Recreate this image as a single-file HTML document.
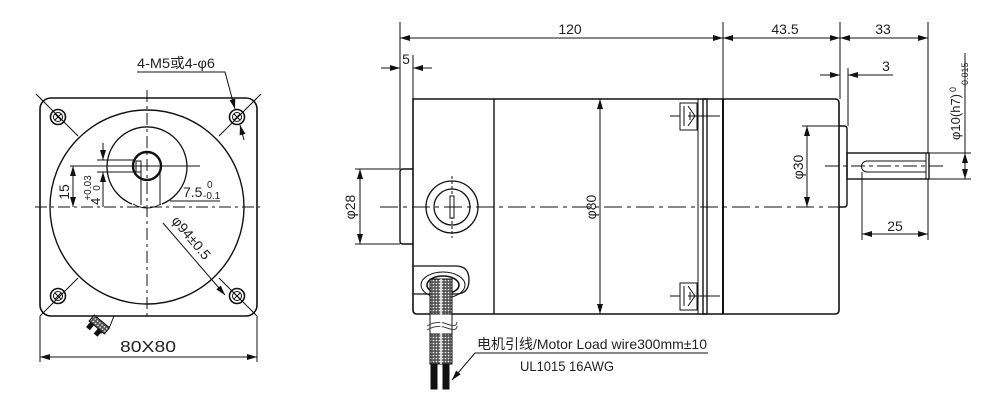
<!DOCTYPE html>
<html><head><meta charset="utf-8"><style>
html,body{margin:0;padding:0;background:#fff;}
svg{display:block;}
text{font-family:"Liberation Sans","Noto Sans CJK SC",sans-serif;fill:#222;}
</style></head><body>
<svg width="1000" height="408" viewBox="0 0 1000 408" xmlns="http://www.w3.org/2000/svg">
<defs>
<marker id="a" viewBox="0 0 10 6" refX="10" refY="3" markerWidth="10" markerHeight="6" orient="auto-start-reverse" markerUnits="userSpaceOnUse"><path d="M0,0L10,3L0,6z" fill="#111"/></marker>
<pattern id="mesh" width="3" height="3" patternUnits="userSpaceOnUse"><rect width="3" height="3" fill="#555"/><circle cx="1.5" cy="1.5" r="0.8" fill="#fff"/></pattern>
</defs>
<g fill="none" stroke="#111" stroke-width="1">
<!-- ===== FRONT VIEW ===== -->
<rect x="40" y="98" width="217" height="218" rx="11" stroke-width="1.6"/>
<circle cx="147" cy="207" r="97" stroke-width="1.4"/>
<line x1="40" y1="98" x2="78" y2="136"/><line x1="257" y1="98" x2="219" y2="136"/>
<line x1="40" y1="316" x2="78" y2="278"/><line x1="257" y1="316" x2="219" y2="278"/>
<line x1="36" y1="94" x2="42" y2="100"/><line x1="261" y1="94" x2="255" y2="100"/>
<g stroke-width="1.6">
<circle cx="58" cy="117" r="7.5"/><circle cx="237" cy="117" r="7.5"/>
<circle cx="58" cy="296" r="7.5"/><circle cx="237" cy="296" r="7.5"/>
</g>
<circle cx="58" cy="117" r="4.5"/><circle cx="237" cy="117" r="4.5"/>
<circle cx="58" cy="296" r="4.5"/><circle cx="237" cy="296" r="4.5"/>
<path d="M55,114l6,6M61,114l-6,6M234,114l6,6M240,114l-6,6M55,293l6,6M61,293l-6,6M234,293l6,6M240,293l-6,6"/>
<path d="M132,204 A40,40 0 1 1 162,204" stroke-width="1.3"/>
<circle cx="147" cy="166" r="14" stroke-width="2.4"/>
<rect x="136" y="161" width="5" height="11"/>
<path d="M133,204 Q147,212 161,204"/>
<line x1="141" y1="172" x2="141" y2="205"/><line x1="160" y1="172" x2="160" y2="205"/>
<line x1="35" y1="207" x2="260" y2="207" stroke-dasharray="12,4,3,4"/>
<line x1="147" y1="90" x2="147" y2="320" stroke-dasharray="12,4,3,4"/>
<line x1="70" y1="166" x2="200" y2="166"/>
<line x1="73" y1="166" x2="73" y2="207" marker-start="url(#a)" marker-end="url(#a)"/>
<line x1="97" y1="160" x2="134" y2="160"/><line x1="97" y1="172" x2="134" y2="172"/>
<line x1="103" y1="143" x2="103" y2="160" marker-end="url(#a)"/>
<line x1="103" y1="172" x2="103" y2="207" marker-start="url(#a)"/>
<line x1="170" y1="201" x2="220" y2="201"/>
<polyline points="137,72 225,72 235,109" marker-end="url(#a)"/>
<line x1="244" y1="140" x2="240" y2="125" marker-end="url(#a)"/>
<line x1="163" y1="223" x2="225" y2="295" marker-end="url(#a)"/>
<path d="M97,316 L92,322 M114,316 L110,326 Q103,335 95,333"/>
<g transform="rotate(40 98 326)"><rect x="88" y="320" width="20" height="8" fill="url(#mesh)"/><rect x="90" y="328" width="4" height="6" fill="#111"/><rect x="100" y="328" width="4" height="6" fill="#111"/></g>
<line x1="40" y1="316" x2="40" y2="362"/><line x1="257" y1="316" x2="257" y2="362"/>
<line x1="40" y1="357" x2="257" y2="357" marker-start="url(#a)" marker-end="url(#a)"/>

<!-- ===== SIDE VIEW ===== -->
<path d="M413,99 H835 Q839,99 839,103 V310 Q839,314 835,314 H417 Q413,314 413,310 Z" stroke-width="1.6"/>
<line x1="494" y1="99" x2="494" y2="314" stroke-width="1.4"/>
<line x1="723" y1="99" x2="723" y2="314" stroke-width="2"/>
<rect x="698" y="99" width="5" height="215"/><rect x="703" y="99" width="4" height="215" stroke-width="1.4"/>
<rect x="680" y="103" width="17" height="27"/><path d="M688,106l7,10l-7,10M684,106v20M688,116h20M690,112v8M680,116h-10M708,116h12" />
<rect x="680" y="283" width="17" height="27"/><path d="M688,286l7,10l-7,10M684,286v20M688,296h20M690,292v8M680,296h-10M708,296h12"/>
<path d="M413,169 H403 Q400,169 400,172 V241 Q400,244 403,244 H413" stroke-width="1.4"/>
<circle cx="452" cy="207" r="26" stroke-width="1.3"/><circle cx="452" cy="207" r="18" stroke-width="1.3"/>
<line x1="452" y1="176" x2="452" y2="238" stroke-dasharray="3,2"/>
<rect x="450" y="196" width="4" height="22" fill="#fff"/>
<path d="M413,266 H456 Q469,266 469,280 Q469,294 456,294 H413" stroke-width="1.3"/>
<ellipse cx="443" cy="285" rx="22" ry="13"/><ellipse cx="443" cy="285" rx="16" ry="9" stroke-width="1.6"/>
<rect x="430" y="279" width="22" height="35" fill="url(#mesh)" stroke="#111"/>
<rect x="430" y="314" width="22" height="20" fill="#fff"/>
<path d="M427,326 Q437,320 447,324 T457,322 M427,330 Q437,324 447,328 T457,326" stroke="#444"/>
<rect x="430" y="334" width="22" height="30" fill="url(#mesh)" stroke="#111"/>
<rect x="431" y="364" width="6" height="25" fill="#111"/><rect x="443" y="364" width="6" height="25" fill="#111"/>
<line x1="441" y1="279" x2="441" y2="364" stroke="#fff" stroke-width="1.5"/>
<polyline points="708,353 475,353 452,380" marker-end="url(#a)"/>
<path d="M839,126 H844 Q847,126 847,129 V204 Q847,207 844,207 H839" stroke-width="1.4"/>
<rect x="847" y="153" width="82" height="26" stroke-width="1.4"/>
<path d="M926,161 H867 A5.5,5.5 0 0 0 867,172 H926 M926,153 V179"/>
<line x1="380" y1="207" x2="850" y2="207" stroke-dasharray="18,5,4,5"/>
<line x1="825" y1="166" x2="945" y2="166" stroke-dasharray="14,4,4,4"/>
<line x1="400" y1="22" x2="400" y2="169"/><line x1="413" y1="55" x2="413" y2="99"/>
<line x1="723" y1="22" x2="723" y2="99"/><line x1="840" y1="22" x2="840" y2="99"/>
<line x1="928" y1="22" x2="928" y2="153"/><line x1="848" y1="68" x2="848" y2="126"/>
<line x1="400" y1="38" x2="723" y2="38" marker-start="url(#a)" marker-end="url(#a)"/>
<line x1="723" y1="38" x2="840" y2="38" marker-start="url(#a)" marker-end="url(#a)"/>
<line x1="840" y1="38" x2="928" y2="38" marker-start="url(#a)" marker-end="url(#a)"/>
<line x1="381" y1="68" x2="400" y2="68" marker-end="url(#a)"/><line x1="432" y1="68" x2="413" y2="68" marker-end="url(#a)"/>
<line x1="820" y1="75" x2="840" y2="75" marker-end="url(#a)"/><line x1="893" y1="75" x2="848" y2="75" marker-end="url(#a)"/>
<line x1="355" y1="169" x2="400" y2="169"/><line x1="355" y1="244" x2="400" y2="244"/>
<line x1="360" y1="169" x2="360" y2="244" marker-start="url(#a)" marker-end="url(#a)"/>
<line x1="600" y1="99" x2="600" y2="314" marker-start="url(#a)" marker-end="url(#a)"/>
<line x1="802" y1="126" x2="839" y2="126"/>
<line x1="807" y1="126" x2="807" y2="207" marker-start="url(#a)" marker-end="url(#a)"/>
<line x1="929" y1="153" x2="971" y2="153"/><line x1="929" y1="179" x2="971" y2="179"/>
<line x1="965" y1="53" x2="965" y2="153"/>
<line x1="965" y1="153" x2="965" y2="179" marker-start="url(#a)" marker-end="url(#a)"/>
<line x1="862" y1="172" x2="862" y2="240"/>
<line x1="862" y1="234" x2="928" y2="234" marker-start="url(#a)" marker-end="url(#a)"/>
<line x1="928" y1="179" x2="928" y2="240"/>
</g>
<g font-size="14">
<text x="137" y="68" textLength="78" lengthAdjust="spacingAndGlyphs">4-M5或4-φ6</text>
<text x="148" y="352" text-anchor="middle" font-size="16" textLength="56" lengthAdjust="spacingAndGlyphs">80X80</text>
<text x="570" y="34" text-anchor="middle">120</text>
<text x="785" y="34" text-anchor="middle">43.5</text>
<text x="883" y="34" text-anchor="middle">33</text>
<text x="406" y="64" text-anchor="middle">5</text>
<text x="886" y="71" text-anchor="middle">3</text>
<text x="895" y="231" text-anchor="middle">25</text>
<text x="477" y="349" textLength="230" lengthAdjust="spacingAndGlyphs">电机引线/Motor Load wire300mm±10</text>
<text x="520" y="371" textLength="94" lengthAdjust="spacingAndGlyphs">UL1015 16AWG</text>
<text x="183" y="197" font-size="14">7.5</text><text x="203" y="199" font-size="10">-0.1</text><text x="207" y="188" font-size="10">0</text>
<text transform="translate(69,192) rotate(-90)" text-anchor="middle">15</text>
<text transform="translate(100,205) rotate(-90)" font-size="13">4</text>
<text transform="translate(91,188) rotate(-90)" font-size="10" text-anchor="middle">+0.03</text>
<text transform="translate(100,188) rotate(-90)" font-size="10" text-anchor="middle">0</text>
<text transform="translate(171,221) rotate(50)" font-size="14">φ94±0.5</text>
<text transform="translate(355,207) rotate(-90)" text-anchor="middle">φ28</text>
<text transform="translate(596,207) rotate(-90)" text-anchor="middle">φ80</text>
<text transform="translate(803,167) rotate(-90)" text-anchor="middle">φ30</text>
<text transform="translate(960,140) rotate(-90)" font-size="13">φ10(h7)</text>
<text transform="translate(968,88) rotate(-90)" font-size="9">-0.015</text>
<text transform="translate(956,92) rotate(-90)" font-size="9">0</text>
</g>
</svg>
</body></html>
